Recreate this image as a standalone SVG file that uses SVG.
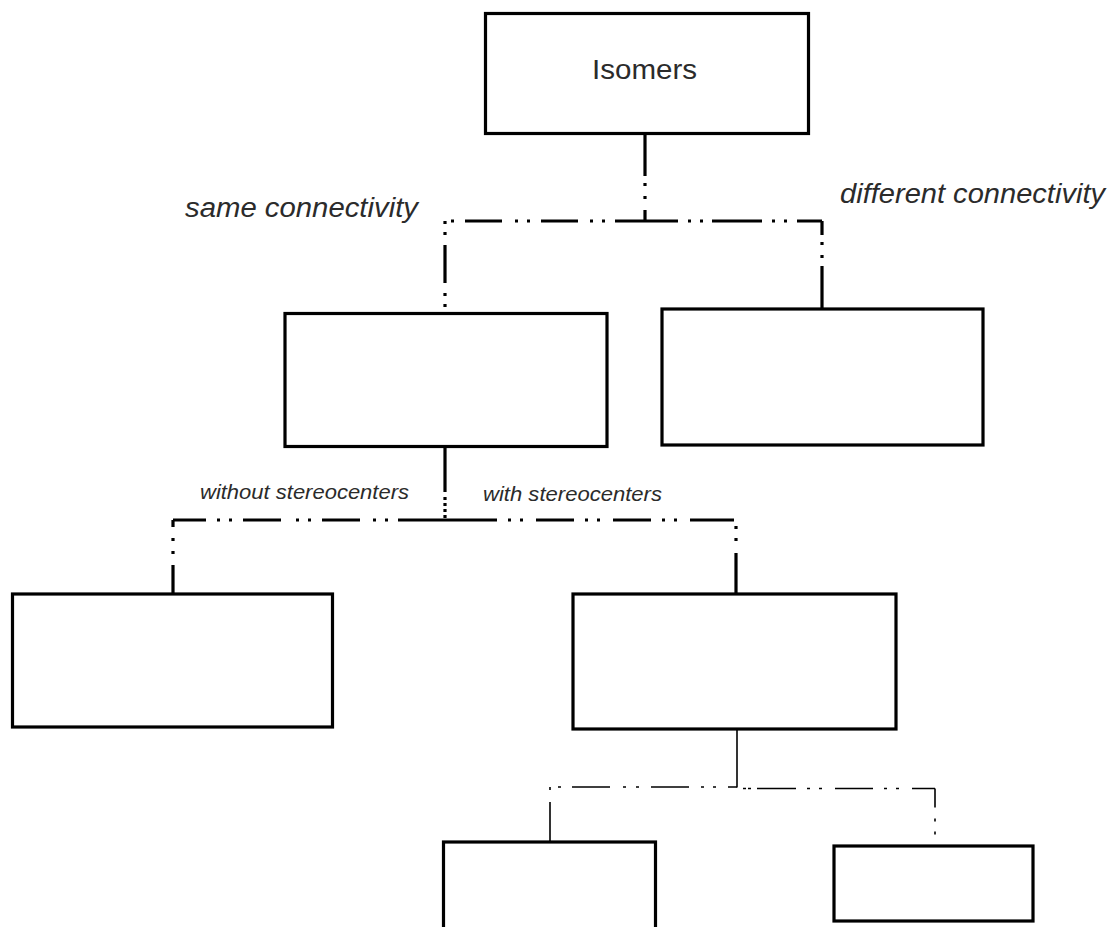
<svg xmlns="http://www.w3.org/2000/svg" width="1112" height="927" viewBox="0 0 1112 927">
<style>
.box{fill:#fff;stroke:#000;stroke-width:3.2}
.c{fill:none;stroke:#000;stroke-width:3.2}
.t{fill:none;stroke:#000;stroke-width:1.6}
.lbl{font-family:"Liberation Sans",Arial,sans-serif;fill:#2b2b2b}
.it{font-style:italic}
</style>
<rect width="1112" height="927" fill="#fff"/>
<g id="connectors">
  <!-- level 1 -->
  <path class="c" d="M645,134 V176"/>
  <path class="c" d="M645,183 V201" stroke-dasharray="3 10 3"/>
  <path class="c" d="M645,210 V221"/>
  <path class="c" d="M645,221 H445" stroke-dasharray="30 10 3 9 3 12 37 11 3 9 3 13 37 11 3 9 3 13"/>
  <path class="c" d="M645,221 H822" stroke-dasharray="33 10 3 9 3 9 50 10 3 9 3 10 30"/>
  <path class="c" d="M445,221 V313" stroke-dasharray="3 8 3 10 38 10"/>
  <path class="c" d="M822,221 V309" stroke-dasharray="14 7 3 10 3 8 50"/>
  <!-- level 2 -->
  <path class="c" d="M445,447 V492"/>
  <path class="c" d="M445,497 V520" stroke-dasharray="3 3"/>
  <path class="c" d="M445,520 H173" stroke-dasharray="47 10 3 9 3 13 38 11 3 9 3 15 38 11 3 9 3 11 40"/>
  <path class="c" d="M445,520 H736" stroke-dasharray="52 11 3 9 3 13 38 11 3 9 3 13 38 11 3 9 3 13 44"/>
  <path class="c" d="M173,520 V593" stroke-dasharray="7 11 3 10 3 11 40"/>
  <path class="c" d="M736,526 V593" stroke-dasharray="3 9 3 12 50"/>
  <!-- level 3 -->
  <path class="t" d="M737,729 V787.5"/>
  <path class="t" d="M737,787 H550" stroke-dasharray="9 12 3 9 3 12 38 12 3 10 3 13 38 11 3 9 3 12 8"/>
  <path class="t" d="M737,788.5 H935" stroke-dasharray="0 6 3 2 3 6 39 11 3 9 3 13 38 11 3 9 3 13 22"/>
  <path class="t" d="M550,787 V842" stroke-dasharray="3 12 45"/>
  <path class="t" d="M935,788.5 V840" stroke-dasharray="19 11 3 10 3 20"/>
</g>
<g id="node-isomers">
  <rect class="box" x="485.5" y="13.5" width="323" height="120"/>
  <text class="lbl" x="592" y="79" font-size="27" textLength="105" lengthAdjust="spacingAndGlyphs">Isomers</text>
</g>
<g id="label-same">
  <text class="lbl it" x="185" y="217" font-size="27" textLength="233" lengthAdjust="spacingAndGlyphs">same connectivity</text>
</g>
<g id="label-different">
  <text class="lbl it" x="840" y="203" font-size="27" textLength="265" lengthAdjust="spacingAndGlyphs">different connectivity</text>
</g>
<g id="node-same">
  <rect class="box" x="285" y="313.5" width="322" height="133"/>
</g>
<g id="node-different">
  <rect class="box" x="662" y="309" width="321" height="136"/>
</g>
<g id="label-without">
  <text class="lbl it" x="200" y="499" font-size="20" fill="#333" textLength="209" lengthAdjust="spacingAndGlyphs">without stereocenters</text>
</g>
<g id="label-with">
  <text class="lbl it" x="483" y="501" font-size="20" fill="#333" textLength="179" lengthAdjust="spacingAndGlyphs">with stereocenters</text>
</g>
<g id="node-without">
  <rect class="box" x="12.5" y="594" width="320" height="133"/>
</g>
<g id="node-with">
  <rect class="box" x="573" y="594" width="323" height="135"/>
</g>
<g id="node-bottom-left">
  <rect class="box" x="443.5" y="842" width="212" height="100"/>
</g>
<g id="node-bottom-right">
  <rect class="box" x="834" y="846" width="199" height="75"/>
</g>
</svg>
